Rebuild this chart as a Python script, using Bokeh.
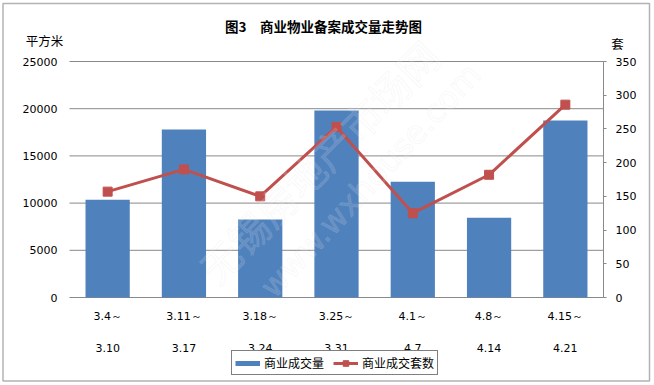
from bokeh.plotting import figure
from bokeh.models import Range1d, LinearAxis, FixedTicker, Label, Legend, LegendItem, BoxAnnotation
from bokeh.embed import file_html
from bokeh.resources import INLINE

# ---- data ----
period_start = ["3.4", "3.11", "3.18", "3.25", "4.1", "4.8", "4.15"]
period_end = ["3.10", "3.17", "3.24", "3.31", "4.7", "4.14", "4.21"]
area_sqm = [10350, 17800, 8250, 19800, 12250, 8450, 18750]   # 商业成交量 (平方米)
deal_units = [157, 190, 150, 253, 125, 182, 286]            # 商业成交套数 (套)
left_ticks = [0, 5000, 10000, 15000, 20000, 25000]
right_ticks = [0, 50, 100, 150, 200, 250, 300, 350]
title_text = "图3　商业物业备案成交量走势图"
unit_labels = ["平方米", "套"]
series_names = ["商业成交量", "商业成交套数"]

# ---- page layout (pixels) ----
W, H = 654, 385
PLOT_L, PLOT_R, PLOT_T, PLOT_B = 69, 603, 61, 297
LEFT_MAX, RIGHT_MAX = 25000, 350

BLUE = "#4F81BD"
RED = "#C0504D"
GRID = "#898989"
NUM_FONT = "DejaVu Sans"
CJK_FONT = "Noto Sans CJK SC"

n = len(period_start)
xs = list(range(n))
S = (PLOT_R - PLOT_L) / n                 # pixels per category
KY = LEFT_MAX / (PLOT_B - PLOT_T)         # left-axis units per pixel
KR = RIGHT_MAX / (PLOT_B - PLOT_T)        # right-axis units per pixel


def dx(px):
    return (px - PLOT_L) / S - 0.5


def dy(py):
    return (PLOT_B - py) * KY


# the frame covers the whole canvas; the chart's plot area is PLOT_L..PLOT_R x PLOT_T..PLOT_B
p = figure(width=W, height=H, output_backend="svg", toolbar_location=None,
           x_axis_type=None, y_axis_type=None,
           x_range=Range1d(dx(0), dx(W)), y_range=Range1d(dy(H), dy(0)),
           min_border_left=0, min_border_right=0, min_border_top=0, min_border_bottom=0)
p.title_location = None
p.extra_y_ranges = {"units": Range1d(-(H - PLOT_B) * KR, PLOT_B * KR)}
p.outline_line_color = None
p.background_fill_color = "white"
p.border_fill_color = "white"


def bare(ax, standoff, font=NUM_FONT, size="11px"):
    ax.axis_line_color = None
    ax.major_tick_line_color = None
    ax.minor_tick_line_color = None
    ax.major_tick_out = 0
    ax.major_tick_in = 0
    ax.major_label_standoff = standoff
    ax.major_label_text_font = font
    ax.major_label_text_font_size = size
    ax.major_label_text_color = "#000000"
    return ax


# horizontal gridlines across the plot area (0 line doubles as the category axis line)
p.segment(x0=-0.5, x1=n - 0.5, y0=left_ticks, y1=left_ticks, line_color=GRID, line_width=1)

# left value labels
ly = bare(LinearAxis(ticker=FixedTicker(ticks=left_ticks), fixed_location=dx(22)), -35)
p.add_layout(ly, "left")

# right axis line with outward ticks
rline = LinearAxis(y_range_name="units", ticker=FixedTicker(ticks=right_ticks),
                   fixed_location=dx(PLOT_R), bounds=(0, RIGHT_MAX),
                   major_label_overrides={t: "" for t in right_ticks})
bare(rline, 0)
rline.axis_line_color = GRID
rline.major_tick_line_color = GRID
rline.major_tick_in = 3
p.add_layout(rline, "left")

# right value labels
rl = bare(LinearAxis(y_range_name="units", ticker=FixedTicker(ticks=right_ticks),
                     fixed_location=dx(636)), -21)
p.add_layout(rl, "right")

# two rows of period labels
bx = bare(LinearAxis(ticker=FixedTicker(ticks=xs), fixed_location=dy(323),
                     major_label_overrides={i: s + "～" for i, s in zip(xs, period_start)}), -14)
p.add_layout(bx, "below")
bx2 = bare(LinearAxis(ticker=FixedTicker(ticks=xs), fixed_location=dy(357),
                      major_label_overrides={i: e for i, e in zip(xs, period_end)}), -14)
p.add_layout(bx2, "below")

# glyphs
bars = p.vbar(x=xs, top=area_sqm, width=0.58, fill_color=BLUE, line_color=None)
line_r = p.line(x=xs, y=deal_units, y_range_name="units", line_color=RED, line_width=3)
pts_r = p.scatter(x=xs, y=deal_units, y_range_name="units", marker="square", size=9,
                  fill_color=RED, line_color=RED)
swatch = p.line(x=[0], y=[float("nan")], line_color=BLUE, line_width=5)

# watermark
p.add_layout(Label(x=dx(318), y=dy(161), text="无锡房地产市场网", angle=0.79,
                   text_align="center", text_baseline="middle",
                   text_font=CJK_FONT, text_font_size="40px", text_color="#ffffff",
                   text_alpha=0.15, text_outline_color="#cfcfcf"))
p.add_layout(Label(x=dx(370), y=dy(180), text="www.wxhouse.com", angle=0.82,
                   text_align="center", text_baseline="middle",
                   text_font="DejaVu Sans", text_font_size="32px", text_color="#ffffff",
                   text_alpha=0.15, text_outline_color="#cfcfcf"))

# title and unit captions
p.add_layout(Label(x=dx(323), y=dy(25), text=title_text, text_align="center",
                   text_baseline="middle", text_font=CJK_FONT, text_font_size="13.5px",
                   text_font_style="bold", text_color="#000000"))
p.add_layout(Label(x=dx(44), y=dy(40), text=unit_labels[0], text_align="center",
                   text_baseline="middle", text_font=CJK_FONT, text_font_size="12.5px",
                   text_color="#000000"))
p.add_layout(Label(x=dx(617), y=dy(43), text=unit_labels[1], text_align="center",
                   text_baseline="middle", text_font=CJK_FONT, text_font_size="12.5px",
                   text_color="#000000"))

# legend
legend = Legend(items=[LegendItem(label=series_names[0], renderers=[swatch]),
                       LegendItem(label=series_names[1], renderers=[line_r, pts_r])],
                location=(231, H - 375), orientation="horizontal",
                glyph_width=25, glyph_height=14, label_height=14, padding=3,
                spacing=9, label_standoff=4, margin=0,
                label_text_font=CJK_FONT, label_text_font_size="12px",
                label_text_color="#000000",
                border_line_color="#000000", border_line_width=1,
                background_fill_color="white", background_fill_alpha=1)
p.add_layout(legend)

# outer chart border
p.add_layout(BoxAnnotation(left=dx(2.5), right=dx(649), top=dy(3), bottom=dy(380.5),
                           fill_alpha=0, line_color="#000000", line_width=1.5))

open("out.html", "w").write(file_html(p, INLINE))
